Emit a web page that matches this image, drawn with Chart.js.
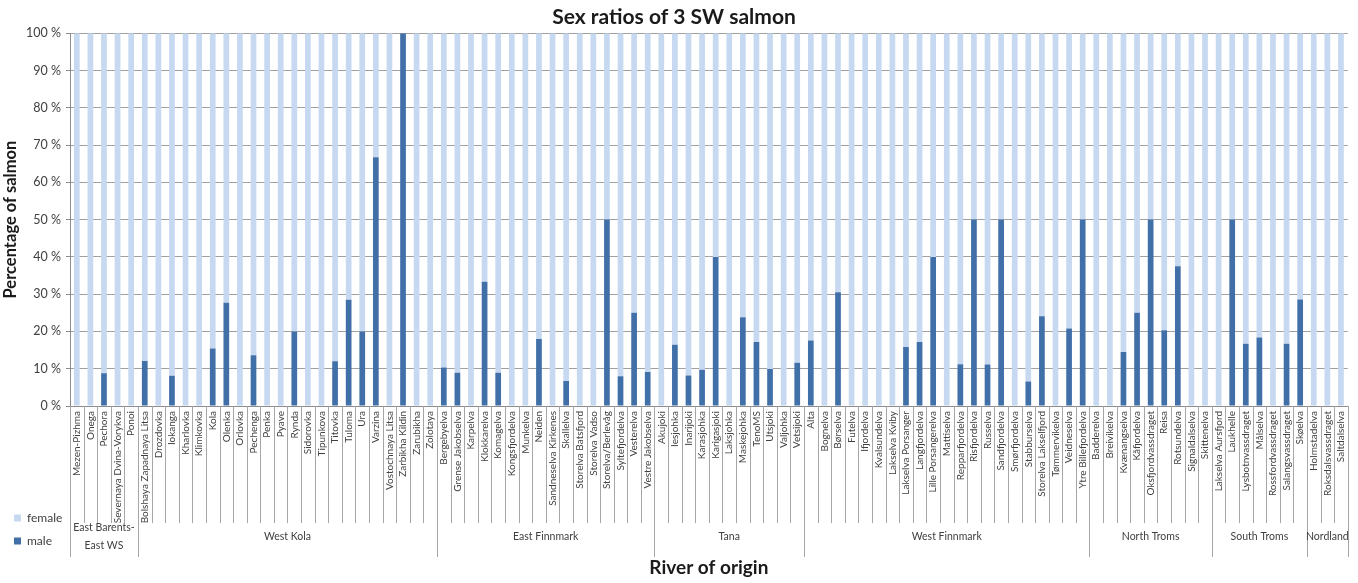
<!DOCTYPE html>
<html><head><meta charset="utf-8">
<script src="https://cdn.jsdelivr.net/npm/chart.js@4.4.1/dist/chart.umd.min.js"></script>
<style>html,body{margin:0;padding:0;background:#fff;}</style>
</head><body>
<canvas id="c" width="1358" height="583"></canvas>
<script>
const rivers = [
 'Mezen-Pizhma','Onega','Pechora','Severnaya Dvina-Vorykva','Ponoi',
 'Bolshaya Zapadnaya Litsa','Drozdovka','Iokanga','Kharlovka','Klimkovka','Kola','Olenka','Orlovka','Pechenga','Penka','Pyave','Rynda','Sidorovka','Tipunkova','Titovka','Tuloma','Ura','Varzina','Vostochnaya Litsa','Zarbikha Kildin','Zarubikha','Zolotaya',
 'Bergebyelva','Grense Jakobselva','Karpelva','Klokkarelva','Komagelva','Kongsfjordelva','Munkelva','Neiden','Sandneselva Kirkenes','Skallelva','Storelva Batsfjord','Storelva Vadso','Storelva/Berlevåg','Syltefjordelva','Vesterelva','Vestre Jakobselva',
 'Akujoki','Iesjohka','Inarijoki','Karasjohka','Karigasjoki','Laksjohka','Maskejohka','TenoMS','Utsjoki','Valjohka','Vetsijoki',
 'Alta','Bognelva','Børselva','Futelva','Ifjordelva','Kvalsundelva','Lakselva Kviby','Lakselva Porsanger','Langfjordelva','Lille Porsangerelva','Mattiselva','Repparfjordelva','Risfjordelva','Russelva','Sandfjordelva','Smørfjordelva','Stabburselva','Storelva Lakselfjord','Tømmervikelva','Veidneselva','Ytre Billefjordelva',
 'Badderelva','Breivikelva','Kvænangselva','Kåfjordelva','Oksfjordvassdraget','Reisa','Rotsundelva','Signaldalselva','Skittenelva',
 'Lakselva Aursfjord','Laukhelle','Lysbotnvassdraget','Målselva','Rossfordvassdraget','Salangsvassdraget','Skøelva',
 'Holmstadelva','Roksdalsvassdraget','Saltdalselva'
];
const groupNames = ['East Barents-\nEast WS','West Kola','East Finnmark','Tana','West Finnmark','North Troms','South Troms','Nordland'];
const groupSizes = [5,22,16,11,21,9,7,3];
const male = [
 0,0,8.8,0,0,
 12.1,0,8.1,0,0,15.4,27.7,0,13.6,0,0,20,0,0,12,28.5,20,66.7,0,100,0,0,
 10.3,8.9,0,33.3,8.9,0,0,18,0,6.7,0,0,50,8,25,9.1,
 0,16.4,8.2,9.7,40,0,23.8,17.2,9.9,0,11.6,
 17.6,0,30.5,0,0,0,0,15.8,17.2,40,0,11.2,50,11.1,50,0,6.6,24.1,0,20.8,50,
 0,0,14.5,25,50,20.3,37.5,0,0,
 0,50,16.7,18.4,0,16.7,28.6,
 0,0,0
];
const female = [
 100,100,91.2,100,100,
 87.9,100,91.9,100,100,84.6,72.3,100,86.4,100,100,80,100,100,88,71.5,80,33.3,100,0,100,100,
 89.7,91.1,100,66.7,91.1,100,100,82,100,93.3,100,100,50,92,75,90.9,
 100,83.6,91.8,90.3,60,100,76.2,82.8,90.1,100,88.4,
 82.4,100,69.5,100,100,100,100,84.2,82.8,60,100,88.8,50,88.9,50,100,93.4,75.9,100,79.2,50,
 100,100,85.5,75,50,79.7,62.5,100,100,
 100,50,83.3,81.6,100,83.3,71.4,
 100,100,100
];

const FONT = 'Lato, "Open Sans", sans-serif';
const TXT = '#404040';

const decor = {
  id: 'decor',
  afterLayout(chart) {
    const lg = chart.legend;
    lg.left = 3; lg.right = 80; lg.top = 500; lg.bottom = 558;
  },
  afterDraw(chart) {
    const xs = chart.scales.x, ctx = chart.ctx;
    const y0 = chart.chartArea.bottom;
    const ends = new Set([0]);
    let acc = 0; groupSizes.forEach(s => { acc += s; ends.add(acc); });
    ctx.save();
    ctx.strokeStyle = '#a6a6a6'; ctx.lineWidth = 1;
    for (let i = 0; i <= rivers.length; i++) {
      const px = Math.round(xs.getPixelForValue(i - 0.5)) + 0.5;
      ctx.beginPath(); ctx.moveTo(px, y0); ctx.lineTo(px, ends.has(i) ? 557 : 523); ctx.stroke();
    }
    ctx.fillStyle = TXT; ctx.font = '10.5px ' + FONT; ctx.textAlign = 'center'; ctx.textBaseline = 'middle';
    let start = 0;
    groupSizes.forEach((s, g) => {
      const cx = (xs.getPixelForValue(start - 0.5) + xs.getPixelForValue(start + s - 0.5)) / 2;
      const lines = groupNames[g].split('\n');
      const lh = 18, yc = 537;
      lines.forEach((t, k) => ctx.fillText(t, cx, yc + (k - (lines.length - 1) / 2) * lh));
      start += s;
    });
    ctx.restore();
  }
};

new Chart(document.getElementById('c'), {
  type: 'bar',
  data: {
    labels: rivers,
    datasets: [
      { label: 'male', data: male, backgroundColor: '#4170A9', borderWidth: 0 },
      { label: 'female', data: female, backgroundColor: '#C6D9F1', borderWidth: 0 }
    ]
  },
  options: {
    responsive: false,
    animation: false,
    layout: { padding: { left: 0, right: 10, top: 0, bottom: 3 } },
    datasets: { bar: { categoryPercentage: 1, barPercentage: 0.42 } },
    plugins: {
      title: { display: true, text: 'Sex ratios of 3 SW salmon', color: '#1a1a1a',
        font: { family: FONT, size: 21, weight: 'bold' }, padding: { top: 5, bottom: 3 } },
      legend: { display: true, position: 'left', align: 'end', reverse: true, maxWidth: 1,
        labels: { boxWidth: 7, boxHeight: 7, padding: 11, color: TXT, font: { family: FONT, size: 12 } } },
      tooltip: { enabled: false }
    },
    scales: {
      x: {
        stacked: true,
        grid: { display: false, drawTicks: false },
        border: { display: true, color: '#8c8c8c' },
        ticks: { autoSkip: false, maxRotation: 90, minRotation: 90, padding: 5, color: TXT,
          font: { family: FONT, size: 10 } },
        title: { display: true, text: 'River of origin', color: '#1a1a1a',
          font: { family: FONT, size: 19, weight: 'bold' }, padding: { top: 0, bottom: 1 } },
        afterFit(s) { s.height = 583 - 3 - 406; }
      },
      y: {
        stacked: true, min: 0, max: 100,
        grid: { color: '#a0a0a0', tickLength: 4, tickColor: '#8c8c8c' },
        border: { display: true, color: '#8c8c8c' },
        ticks: { stepSize: 10, padding: 5, color: TXT, font: { family: FONT, size: 12.5 },
          callback: v => v + ' %' },
        title: { display: true, text: 'Percentage of salmon', color: '#1a1a1a',
          font: { family: FONT, size: 16.5, weight: 'bold' }, padding: { top: 0, bottom: 5 } },
        afterFit(s) { s.width = 69; }
      }
    }
  },
  plugins: [decor]
});
</script>
</body></html>
